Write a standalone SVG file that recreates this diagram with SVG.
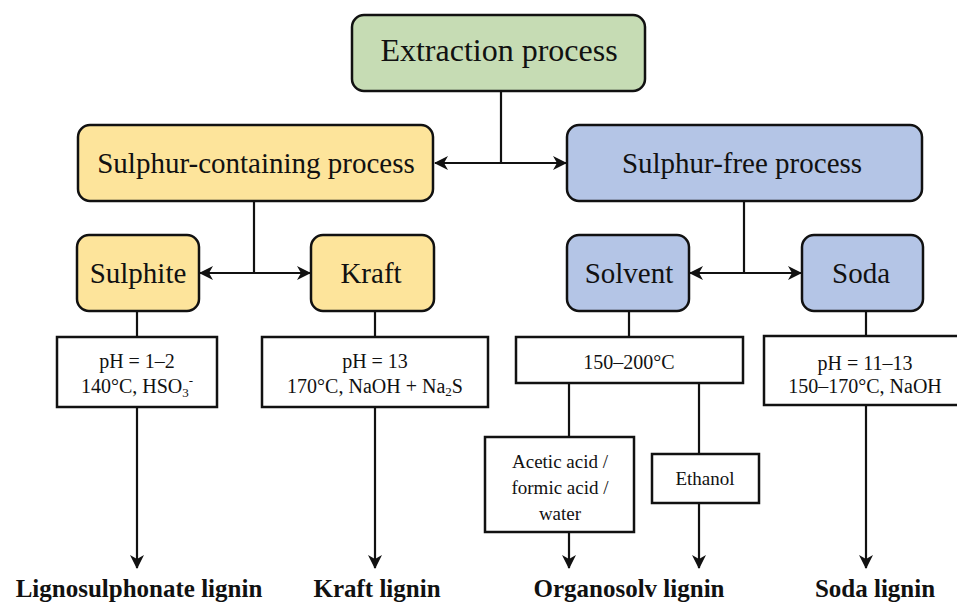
<svg xmlns="http://www.w3.org/2000/svg" width="957" height="603" viewBox="0 0 957 603">
<defs>
<style>
.t{font-family:"Liberation Serif","Times New Roman",serif;fill:#111;text-anchor:middle}
.big{font-size:29px}
.top{font-size:32px}
.cond{font-size:20px}
.small{font-size:19px}
.out{font-size:25px;font-weight:bold}
.node{stroke:#111;stroke-width:2.5}
.g{fill:#c6dcb4}.y{fill:#fde49b}.b{fill:#b4c5e6}.w{fill:#fff}
.c line,.c path{stroke:#111;stroke-width:2.2;fill:none}
</style>
<marker id="ah" viewBox="0 0 14 14" refX="13" refY="7" markerWidth="14" markerHeight="14" markerUnits="userSpaceOnUse" orient="auto-start-reverse">
<path d="M0,0 L14,7 L0,14 L4,7 z" fill="#111"/>
</marker>
</defs>
<rect width="957" height="603" fill="#fff"/>
<g class="c" id="connectors">
<line x1="501" y1="91" x2="501" y2="163"/>
<line x1="435" y1="163" x2="566" y2="163" marker-start="url(#ah)" marker-end="url(#ah)"/>
<line x1="254" y1="201" x2="254" y2="273"/>
<line x1="200" y1="273" x2="310" y2="273" marker-start="url(#ah)" marker-end="url(#ah)"/>
<line x1="744" y1="201" x2="744" y2="273"/>
<line x1="690" y1="273" x2="801" y2="273" marker-start="url(#ah)" marker-end="url(#ah)"/>
<line x1="137" y1="311" x2="137" y2="337"/>
<line x1="137" y1="407" x2="137" y2="568" marker-end="url(#ah)"/>
<line x1="375" y1="311" x2="375" y2="337"/>
<line x1="375" y1="407" x2="375" y2="568" marker-end="url(#ah)"/>
<line x1="629" y1="311" x2="629" y2="337"/>
<line x1="569" y1="383" x2="569" y2="437"/>
<line x1="569" y1="532" x2="569" y2="568" marker-end="url(#ah)"/>
<line x1="699" y1="383" x2="699" y2="454"/>
<line x1="699" y1="503" x2="699" y2="568" marker-end="url(#ah)"/>
<line x1="866" y1="311" x2="866" y2="336"/>
<line x1="866" y1="405" x2="866" y2="568" marker-end="url(#ah)"/>
</g>
<g id="extraction">
<rect class="node g" x="352" y="15" width="293" height="76" rx="12"/>
<text class="t top" x="499" y="61">Extraction process</text>
</g>
<g id="sulphur-containing">
<rect class="node y" x="78" y="125" width="355" height="76" rx="12"/>
<text class="t big" x="256" y="173">Sulphur-containing process</text>
</g>
<g id="sulphur-free">
<rect class="node b" x="567" y="125" width="355" height="76" rx="12"/>
<text class="t big" x="742" y="173">Sulphur-free process</text>
</g>
<g id="sulphite">
<rect class="node y" x="77" y="235" width="122" height="76" rx="12"/>
<text class="t big" x="138" y="283">Sulphite</text>
</g>
<g id="kraft">
<rect class="node y" x="311" y="235" width="123" height="76" rx="12"/>
<text class="t big" x="371" y="283">Kraft</text>
</g>
<g id="solvent">
<rect class="node b" x="567" y="235" width="122" height="76" rx="12"/>
<text class="t big" x="629" y="283">Solvent</text>
</g>
<g id="soda">
<rect class="node b" x="802" y="235" width="121" height="76" rx="12"/>
<text class="t big" x="861" y="283">Soda</text>
</g>
<g id="sulphite-cond">
<rect class="node w" x="57" y="337" width="160" height="70"/>
<text class="t cond" x="137" y="368">pH = 1–2</text>
<text class="t cond" x="137" y="393">140°C, HSO<tspan font-size="13" dy="4">3</tspan><tspan font-size="13" dy="-12">-</tspan></text>
</g>
<g id="kraft-cond">
<rect class="node w" x="262" y="337" width="226" height="70"/>
<text class="t cond" x="375" y="368">pH = 13</text>
<text class="t cond" x="375" y="393">170°C, NaOH + Na<tspan font-size="13" dy="3">2</tspan><tspan dy="-3">S</tspan></text>
</g>
<g id="solvent-cond">
<rect class="node w" x="516" y="337" width="227" height="46"/>
<text class="t cond" x="629" y="369">150–200°C</text>
</g>
<g id="soda-cond">
<rect class="node w" x="764" y="336" width="200" height="69"/>
<text class="t cond" x="865" y="370">pH = 11–13</text>
<text class="t cond" x="865" y="393">150–170°C, NaOH</text>
</g>
<g id="acetic">
<rect class="node w" x="485" y="437" width="149" height="95"/>
<text class="t small" x="560" y="468">Acetic acid /</text>
<text class="t small" x="560" y="494">formic acid /</text>
<text class="t small" x="560" y="520">water</text>
</g>
<g id="ethanol">
<rect class="node w" x="652" y="454" width="107" height="49"/>
<text class="t small" x="705" y="485">Ethanol</text>
</g>
<g id="outputs">
<text class="t out" x="139" y="597">Lignosulphonate lignin</text>
<text class="t out" x="377" y="597">Kraft lignin</text>
<text class="t out" x="629" y="597">Organosolv lignin</text>
<text class="t out" x="875" y="597">Soda lignin</text>
</g>
</svg>
